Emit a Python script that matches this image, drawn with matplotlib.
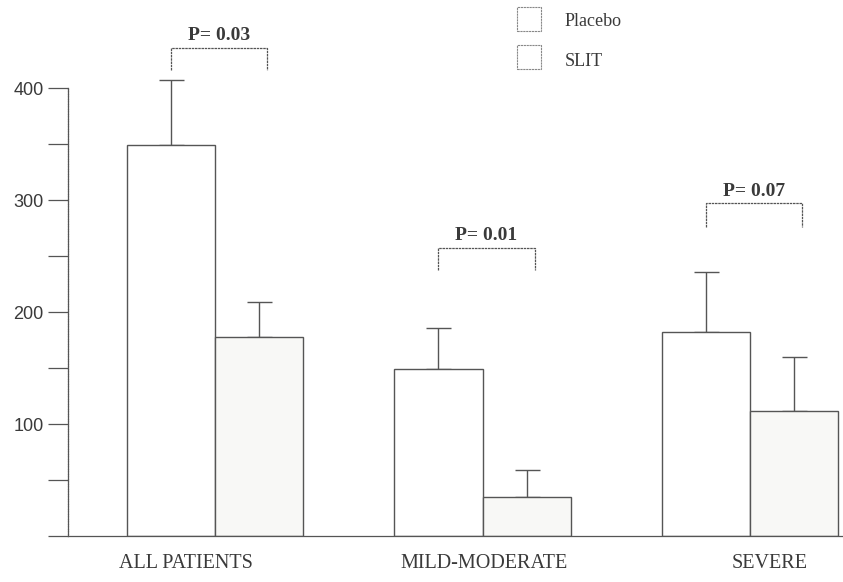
import numpy as np
import matplotlib
matplotlib.use("Agg")
import matplotlib.pyplot as plt
from matplotlib.patches import Rectangle

plt.rcParams['font.family'] = ['Liberation Serif', 'DejaVu Serif']

categories = ["ALL PATIENTS", "MILD-MODERATE", "SEVERE"]
placebo = [349, 149, 182]
placebo_err = [58, 37, 54]
slit = [178, 35, 112]
slit_err = [31, 24, 48]
p_labels = ["P= 0.03", "P= 0.01", "P= 0.07"]
bracket_top = [436, 257, 297]
bracket_leg = [20, 19, 21]
yticks_major = [100, 200, 300, 400]
yticks_minor = [0, 50, 150, 250, 350]
label_shift = [-0.11, 0.006, 0.075]

line_col = "#555555"
text_col = "#3a3a3a"

fig = plt.figure(figsize=(8.43, 5.82), dpi=100)
ax = fig.add_axes([68 / 843, 46 / 582, 775 / 843, 515 / 582])

x = np.arange(len(categories))
w = 0.33

ax.bar(x - w / 2, placebo, w, color="white", edgecolor=line_col, linewidth=1.0, zorder=2)
ax.bar(x + w / 2, slit, w, color="#f8f8f6", edgecolor=line_col, linewidth=1.0, zorder=2)
ax.errorbar(x - w / 2, placebo, yerr=[np.zeros(3), placebo_err], fmt="none",
            ecolor=line_col, elinewidth=1.0, capsize=9, capthick=1.0, zorder=1)
ax.errorbar(x + w / 2, slit, yerr=[np.zeros(3), slit_err], fmt="none",
            ecolor=line_col, elinewidth=1.0, capsize=9, capthick=1.0, zorder=1)

# significance brackets with p-values
for i in range(len(categories)):
    xl = x[i] - w / 2
    xr = x[i] + w / 2 + 0.03
    top = bracket_top[i]
    ax.plot([xl, xl, xr, xr], [top - bracket_leg[i], top, top, top - bracket_leg[i]],
            color=line_col, linewidth=0.9, linestyle=(0, (2, 0.6)), clip_on=False)
    ax.text((xl + xr) / 2, top + 7, p_labels[i], ha="center", va="baseline",
            fontsize=14, fontweight="bold", color=text_col)

ax.set_xlim(-0.55, 2.348)
ax.set_ylim(0, 460)
ax.spines["top"].set_visible(False)
ax.spines["right"].set_visible(False)
ax.spines["left"].set_bounds(0, 400)
for s in ("left", "bottom"):
    ax.spines[s].set_color(line_col)
    ax.spines[s].set_linewidth(0.9)
ax.spines["left"].set_linestyle((0, (1.5, 0.5)))

ax.set_yticks(yticks_major)
ax.set_yticklabels([str(v) for v in yticks_major], family=["Liberation Sans", "DejaVu Sans"])
ax.set_yticks(yticks_minor, minor=True)
ax.tick_params(axis="y", which="both", direction="out", length=14.4, width=0.9,
               color=line_col, labelcolor=text_col, labelsize=13, pad=3)

# category labels under each group
ax.set_xticks(x)
ax.set_xticklabels([])
ax.tick_params(axis="x", length=0)
xt = ax.get_xaxis_transform()
for i, cat in enumerate(categories):
    ax.text(x[i] + label_shift[i], -32 / 515, cat, transform=xt, ha="center",
            va="baseline", fontsize=14.5, color=text_col)

# legend boxes
for yb, yt, lab in [(7, 21, "Placebo"), (45, 62, "SLIT")]:
    fig.patches.append(Rectangle((517 / 843, 1 - (yb + 24) / 582), 24 / 843, 24 / 582,
                                 transform=fig.transFigure, facecolor="white",
                                 edgecolor="#888888", linewidth=0.8, linestyle=(0, (2, 0.6))))
    fig.text(565 / 843, 1 - yt / 582, lab, fontsize=13, color=text_col, va="center")

fig.savefig("out.png", dpi=100, facecolor="white")
